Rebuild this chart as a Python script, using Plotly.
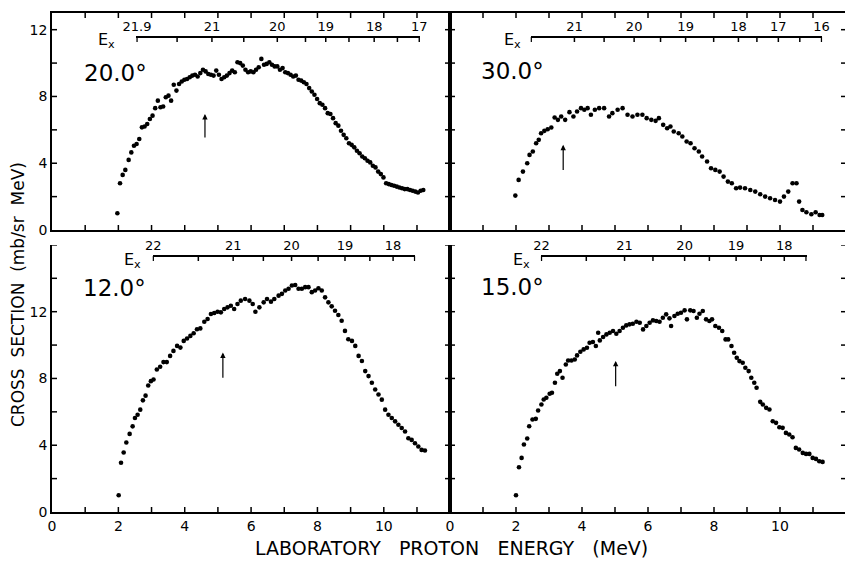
import plotly.graph_objects as go

W, H = 853, 561          # browser window
OFF = 8                  # default page (body) margin of the browser
FW, FH = W - OFF, H - OFF
FONT = "DejaVu Sans"

# ---------------- data (lab proton energy MeV, cross section mb/sr MeV) ----
e20 = [1.97, 2.05, 2.13, 2.21, 2.31, 2.39, 2.47, 2.55, 2.63, 2.71, 2.79, 2.87, 2.95, 3.03,
       3.11, 3.19, 3.27, 3.35, 3.43, 3.51, 3.59, 3.67, 3.75, 3.83, 3.91, 3.99, 4.07, 4.15,
       4.23, 4.31, 4.39, 4.47, 4.55, 4.63, 4.71, 4.79, 4.87, 4.95, 5.03, 5.11, 5.19, 5.27,
       5.35, 5.43, 5.51, 5.59, 5.67, 5.75, 5.83, 5.91, 5.99, 6.07, 6.15, 6.23, 6.31, 6.39,
       6.47, 6.55, 6.63, 6.71, 6.79, 6.87, 6.95, 7.03, 7.11, 7.19, 7.27, 7.35, 7.43, 7.51,
       7.59, 7.67, 7.75, 7.83, 7.91, 7.99, 8.07, 8.15, 8.23, 8.31, 8.39, 8.47, 8.55, 8.63,
       8.71, 8.79, 8.87, 8.95, 9.03, 9.11, 9.19, 9.27, 9.35, 9.43, 9.51, 9.59, 9.67, 9.75,
       9.83, 9.91, 9.99, 10.07, 10.15, 10.23, 10.31, 10.39, 10.47, 10.55, 10.63, 10.71,
       10.79, 10.87, 10.95, 11.03, 11.11, 11.19]
cs20 = [1.0, 2.8, 3.3, 3.6, 4.2, 4.65, 5.05, 5.15, 5.45, 6.15, 6.2, 6.35, 6.65, 6.85,
        7.3, 7.75, 7.35, 7.4, 7.95, 8.05, 7.75, 8.7, 8.35, 8.75, 8.9, 9.0, 9.05, 9.15,
        9.25, 9.3, 9.2, 9.4, 9.6, 9.5, 9.35, 9.3, 9.25, 9.55, 9.3, 9.05, 9.15, 9.25,
        9.4, 9.55, 9.45, 10.05, 10.0, 9.85, 9.6, 9.45, 9.5, 9.45, 9.6, 9.75, 10.25, 9.9,
        9.95, 10.05, 9.9, 9.8, 9.8, 9.6, 9.7, 9.45, 9.4, 9.3, 9.2, 9.25, 9.0, 8.95,
        8.85, 8.75, 8.5, 8.3, 8.1, 7.85, 7.6, 7.5, 7.3, 7.0, 6.95, 6.7, 6.4, 6.25,
        5.95, 5.7, 5.5, 5.2, 5.1, 4.95, 4.75, 4.6, 4.4, 4.3, 4.15, 4.05, 3.85, 3.75,
        3.5, 3.35, 3.15, 2.8, 2.75, 2.7, 2.65, 2.6, 2.55, 2.5, 2.45, 2.45,
        2.4, 2.35, 2.3, 2.25, 2.35, 2.4]

e30 = [1.98, 2.08, 2.21, 2.34, 2.41, 2.51, 2.61, 2.69, 2.76, 2.86, 2.96, 3.07, 3.17, 3.27,
       3.37, 3.49, 3.62, 3.74, 3.85, 3.97, 4.07, 4.17, 4.27, 4.39, 4.52, 4.67, 4.82, 4.92,
       5.08, 5.23, 5.38, 5.53, 5.68, 5.83, 5.96, 6.10, 6.23, 6.33, 6.46, 6.58, 6.68, 6.78,
       6.93, 7.04, 7.17, 7.29, 7.41, 7.54, 7.64, 7.79, 7.91, 8.04, 8.17, 8.29, 8.42, 8.54,
       8.67, 8.79, 8.94, 9.10, 9.25, 9.40, 9.55, 9.70, 9.85, 10.00, 10.12, 10.25, 10.38,
       10.50, 10.58, 10.68, 10.80, 10.95, 11.08, 11.20, 11.28]
cs30 = [2.06, 3.0, 3.5, 4.0, 4.5, 4.7, 5.2, 5.4, 5.8, 5.94, 6.04, 6.14, 6.74, 6.6,
        6.8, 6.6, 7.06, 6.8, 7.1, 7.3, 7.2, 7.3, 6.9, 7.2, 7.3, 7.3, 6.8, 7.0,
        7.2, 7.3, 6.9, 6.8, 6.9, 6.9, 6.7, 6.6, 6.54, 6.7, 6.3, 6.1, 6.2, 5.9,
        5.8, 5.6, 5.3, 5.2, 4.9, 4.7, 4.4, 4.1, 3.7, 3.6, 3.5, 3.2, 2.9, 2.8,
        2.5, 2.54, 2.5, 2.4, 2.3, 2.14, 2.0, 1.9, 1.8, 1.7, 2.0, 2.3, 2.8,
        2.8, 1.7, 1.2, 1.06, 0.94, 1.06, 0.9, 0.9]

e12 = [2.01, 2.08, 2.16, 2.24, 2.34, 2.43, 2.50, 2.58, 2.66, 2.74, 2.82, 2.90, 2.98, 3.06,
       3.16, 3.26, 3.36, 3.46, 3.56, 3.66, 3.77, 3.87, 3.97, 4.07, 4.17, 4.27, 4.37, 4.47,
       4.59, 4.69, 4.79, 4.89, 4.99, 5.09, 5.19, 5.29, 5.39, 5.49, 5.59, 5.69, 5.82, 5.95,
       6.05, 6.13, 6.25, 6.38, 6.48, 6.60, 6.70, 6.83, 6.93, 7.03, 7.13, 7.23, 7.33, 7.43,
       7.53, 7.63, 7.73, 7.83, 7.93, 8.03, 8.13, 8.23, 8.33, 8.43, 8.53, 8.63, 8.73, 8.83,
       8.93, 9.04, 9.14, 9.24, 9.34, 9.44, 9.54, 9.64, 9.74, 9.84, 9.94, 10.04, 10.14,
       10.24, 10.34, 10.44, 10.54, 10.64, 10.74, 10.84, 10.94, 11.04, 11.14, 11.24]
cs12 = [1.0, 2.95, 3.56, 4.16, 4.68, 5.13, 5.63, 5.83, 6.13, 6.69, 6.97, 7.58, 7.84, 7.94,
        8.54, 8.7, 8.98, 8.98, 9.35, 9.65, 9.95, 9.85, 10.25, 10.39, 10.55, 10.71, 10.95, 11.0,
        11.4, 11.56, 11.86, 11.92, 12.0, 11.96, 12.16, 12.26, 12.36, 12.16, 12.46, 12.66, 12.76, 12.66,
        12.46, 12.0, 12.26, 12.56, 12.76, 12.6, 12.76, 12.96, 13.07, 13.27, 13.37, 13.57, 13.6, 13.37,
        13.37, 13.47, 13.47, 13.17, 13.27, 13.4, 13.27, 12.86, 12.56, 12.32, 12.06, 11.8, 11.46, 10.85,
        10.35, 10.25, 9.95, 9.35, 9.05, 8.44, 8.14, 7.74, 7.34, 7.04, 6.73, 6.13, 5.83,
        5.63, 5.43, 5.23, 5.03, 4.82, 4.42, 4.32, 4.12, 3.92, 3.72, 3.68]

e15 = [2.00, 2.09, 2.17, 2.24, 2.34, 2.40, 2.50, 2.60, 2.67, 2.77, 2.84, 2.92, 3.02, 3.09,
       3.18, 3.25, 3.33, 3.41, 3.51, 3.58, 3.68, 3.78, 3.85, 3.95, 4.05, 4.15, 4.23, 4.33,
       4.42, 4.49, 4.54, 4.64, 4.74, 4.84, 4.94, 5.04, 5.14, 5.24, 5.34, 5.44, 5.54, 5.65,
       5.75, 5.85, 5.95, 6.05, 6.15, 6.25, 6.35, 6.45, 6.55, 6.65, 6.70, 6.80, 6.90, 7.00,
       7.11, 7.18, 7.28, 7.38, 7.48, 7.56, 7.66, 7.76, 7.86, 7.94, 8.04, 8.15, 8.25, 8.35,
       8.43, 8.53, 8.61, 8.69, 8.77, 8.87, 8.95, 9.05, 9.13, 9.22, 9.29, 9.40, 9.48, 9.58,
       9.68, 9.78, 9.88, 9.98, 10.08, 10.18, 10.28, 10.38, 10.48, 10.58, 10.69, 10.79,
       10.89, 10.99, 11.09, 11.19, 11.29]
cs15 = [1.0, 2.68, 3.24, 4.04, 4.4, 5.14, 5.54, 5.58, 6.08, 6.44, 6.74, 6.84, 7.08, 7.14,
        7.74, 8.28, 8.44, 8.04, 8.84, 9.08, 9.08, 9.14, 9.38, 9.6, 9.74, 9.84, 10.14, 10.18,
        9.94, 10.74, 10.28, 10.48, 10.64, 10.74, 10.84, 10.68, 10.84, 11.04, 11.18, 11.24, 11.28, 11.4,
        11.34, 10.94, 11.14, 11.34, 11.48, 11.44, 11.4, 11.64, 11.84, 11.6, 11.14, 11.74, 11.88, 11.94,
        12.08, 11.54, 12.08, 12.04, 11.64, 11.88, 12.04, 11.54, 11.44, 11.54, 11.14, 11.04, 10.84, 10.34,
        10.34, 9.94, 9.54, 9.24, 9.04, 8.94, 8.64, 8.44, 8.04, 7.74, 7.44, 6.6, 6.44, 6.24,
        6.14, 5.44, 5.34, 5.08, 5.04, 4.74, 4.64, 4.48, 3.84, 3.74, 3.54, 3.48,
        3.48, 3.24, 3.18, 3.04, 3.0]

# excitation-energy scales: labelled ticks and unlabelled in-between ticks (lab MeV)
ex20_pos = [2.56, 4.82, 6.79, 8.25, 9.71, 11.07]
ex20_txt = ["21.9", "21", "20", "19", "18", "17"]
ex20_mid = [3.77, 5.78, 7.64, 8.95, 10.41]
ex30_pos = [3.77, 5.58, 7.14, 8.74, 9.95, 11.26]
ex30_txt = ["21", "20", "19", "18", "17", "16"]
ex30_mid = [2.46, 4.67, 6.38, 7.99, 9.30, 10.60]
ex12_pos = [3.05, 5.46, 7.22, 8.83, 10.28]
ex12_txt = ["22", "21", "20", "19", "18"]
ex12_mid = [4.41, 6.37, 8.02, 9.58, 10.93]
ex15_pos = [2.77, 5.29, 7.11, 8.67, 10.13]
ex15_txt = ["22", "21", "20", "19", "18"]
ex15_mid = [4.13, 6.15, 7.86, 9.43, 10.79]

angles = ["20.0°", "30.0°", "12.0°", "15.0°"]
arrow_e = [4.61, 3.43, 5.15, 5.02]
arrow_top = [6.95, 5.1, 9.55, 9.05]
arrow_bot = [5.45, 3.5, 7.95, 7.45]


def fx(px):
    return (px - OFF) / FW


def fy(py):
    return 1 - (py - OFF) / FH


# panel frames in window pixels
LX0, MIDX, RX1 = 52, 450, 846
TY0, TY1, BY0, BY1 = 13, 230, 245, 512
left_dom = [fx(LX0), fx(MIDX)]
right_dom = [fx(MIDX), fx(RX1)]
top_dom = [fy(TY1), fy(TY0)]
bot_dom = [fy(BY1), fy(BY0)]
TICK = 5      # tick length, px

panels = [
    dict(xa="x", ya="y", e=e20, cs=cs20, xd=left_dom, yd=top_dom, ymax=13,
         ex_pos=ex20_pos, ex_txt=ex20_txt, ex_mid=ex20_mid, ex_ypx=37, ex_gap=19,
         lab=(0.9, 9.4)),
    dict(xa="x2", ya="y2", e=e30, cs=cs30, xd=right_dom, yd=top_dom, ymax=13,
         ex_pos=ex30_pos, ex_txt=ex30_txt, ex_mid=ex30_mid, ex_ypx=37, ex_gap=8,
         lab=(0.88, 9.5)),
    dict(xa="x3", ya="y3", e=e12, cs=cs12, xd=left_dom, yd=bot_dom, ymax=16,
         ex_pos=ex12_pos, ex_txt=ex12_txt, ex_mid=ex12_mid, ex_ypx=256, ex_gap=10,
         lab=(0.88, 13.4)),
    dict(xa="x4", ya="y4", e=e15, cs=cs15, xd=right_dom, yd=bot_dom, ymax=16,
         ex_pos=ex15_pos, ex_txt=ex15_txt, ex_mid=ex15_mid, ex_ypx=256, ex_gap=9,
         lab=(0.88, 13.5)),
]

fig = go.Figure()
tickfont = dict(family=FONT, size=14, color="black")
base = dict(showline=True, linecolor="black", linewidth=1.5, showgrid=False,
            zeroline=False, ticks="", tickfont=tickfont, automargin=False)


def tick_segments(xa, ya, segs):
    """segs: list of ((x0, y0), (x1, y1)) in the axes' data units."""
    xs, ys = [], []
    for (x0, y0), (x1, y1) in segs:
        xs += [x0, x1, None]
        ys += [y0, y1, None]
    fig.add_trace(go.Scatter(x=xs, y=ys, mode="lines", xaxis=xa, yaxis=ya,
                             line=dict(color="black", width=1.5),
                             showlegend=False, hoverinfo="skip"))


layout = {}
annotations = []
for i, p in enumerate(panels):
    n = "" if i == 0 else str(i + 1)
    top_row = p["yd"] is top_dom
    left_col = p["xd"] is left_dom
    xmax = 11.995 if left_col else 12
    ymax = p["ymax"] if top_row else p["ymax"] - 0.005
    fig.add_trace(go.Scatter(x=p["e"], y=p["cs"], mode="markers",
                             marker=dict(color="black", size=4.6),
                             xaxis=p["xa"], yaxis=p["ya"], showlegend=False,
                             hoverinfo="skip"))
    layout["xaxis" + n] = dict(base, domain=p["xd"], anchor=p["ya"], range=[0, xmax],
                               tickmode="linear", tick0=0, dtick=2,
                               mirror=True if top_row else False,
                               showticklabels=not top_row)
    layout["yaxis" + n] = dict(base, domain=p["yd"], anchor=p["xa"], range=[0, ymax],
                               tickmode="linear", tick0=0, dtick=4,
                               mirror=True, showticklabels=left_col)

    # axis tick marks drawn inside the frame
    px_w = (p["xd"][1] - p["xd"][0]) * FW
    px_h = (p["yd"][1] - p["yd"][0]) * FH
    dx = TICK * xmax / px_w
    dy = TICK * ymax / px_h
    segs = []
    for v in range(1, 12):
        segs.append(((v, 0), (v, dy)))
        if top_row:
            segs.append(((v, ymax), (v, ymax - dy)))
    for v in range(2, p["ymax"] + 1, 2):
        segs.append(((0, v), (dx, v)))
        segs.append(((xmax, v), (xmax - dx, v)))
    tick_segments(p["xa"], p["ya"], segs)

    # E_x scale as a free top axis spanning only its own lab-energy range
    allpos = sorted(p["ex_pos"] + p["ex_mid"])
    r0, r1 = allpos[0] - 0.02, allpos[-1] + 0.02
    w = p["xd"][1] - p["xd"][0]
    dom = [p["xd"][0] + r0 / xmax * w, p["xd"][0] + r1 / xmax * w]
    k = str(i + 5)
    ypos = fy(p["ex_ypx"])
    layout["xaxis" + k] = dict(base, domain=dom, range=[r0, r1], anchor="free",
                               position=ypos, side="top", tickmode="array",
                               tickvals=p["ex_pos"], ticktext=p["ex_txt"],
                               tickfont=dict(family=FONT, size=13, color="black"))
    y_line = (ypos - p["yd"][0]) * px_h / (p["yd"][1] - p["yd"][0]) * ymax / px_h
    tick_segments("x" + k, p["ya"], [((a, y_line), (a, y_line - dy)) for a in allpos])

    annotations.append(dict(text="E<sub>x</sub>", xref="paper", yref="paper",
                            x=dom[0], y=ypos, xanchor="right", yanchor="middle",
                            xshift=-p["ex_gap"], yshift=-4, showarrow=False,
                            font=dict(family=FONT, size=16, color="black")))
    annotations.append(dict(text=angles[i], xref=p["xa"], yref=p["ya"],
                            x=p["lab"][0], y=p["lab"][1], xanchor="left",
                            yanchor="middle", showarrow=False,
                            font=dict(family=FONT, size=23, color="black")))
    annotations.append(dict(text="", xref=p["xa"], yref=p["ya"], x=arrow_e[i],
                            y=arrow_top[i], ax=arrow_e[i], ay=arrow_bot[i],
                            axref=p["xa"], ayref=p["ya"], showarrow=True,
                            arrowhead=2, arrowsize=0.9, arrowwidth=1.2,
                            arrowcolor="black"))

annotations.append(dict(text="CROSS  SECTION  (mb/sr  MeV)", xref="paper", yref="paper",
                        x=fx(18), y=fy(295), textangle=-90, showarrow=False,
                        xanchor="center", yanchor="middle",
                        font=dict(family=FONT, size=17, color="black")))
annotations.append(dict(text="LABORATORY   PROTON   ENERGY   (MeV)", xref="paper",
                        yref="paper", x=fx(451), y=fy(548), showarrow=False,
                        xanchor="center", yanchor="middle",
                        font=dict(family=FONT, size=19, color="black")))

fig.update_layout(width=FW, height=FH,
                  margin=dict(l=0, r=0, t=0, b=0, pad=0, autoexpand=False),
                  paper_bgcolor="white", plot_bgcolor="rgba(0,0,0,0)",
                  showlegend=False, annotations=annotations, **layout)

fig.write_html("out.html")
